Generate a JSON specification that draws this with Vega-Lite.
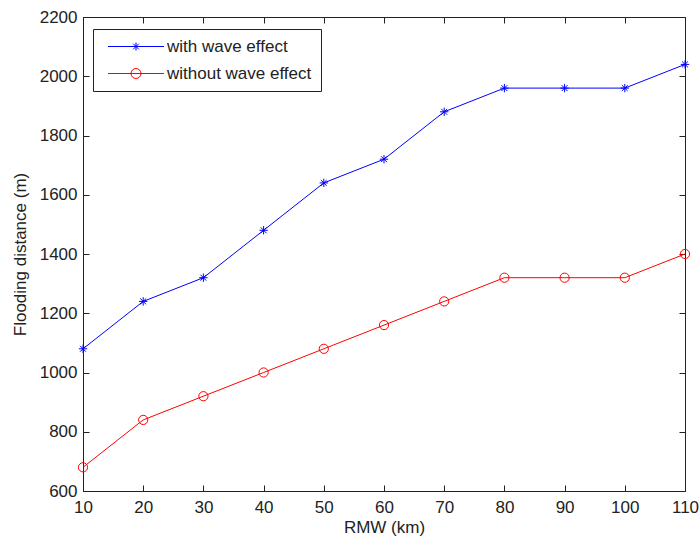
{
  "$schema": "https://vega.github.io/schema/vega-lite/v6.json",
  "width": 602,
  "height": 474,
  "autosize": {"type": "none"},
  "padding": {"left": 83, "top": 17, "right": 15, "bottom": 52},
  "background": "white",
  "config": {
    "view": {"stroke": "#222222", "strokeWidth": 1},
    "font": "Liberation Sans",
    "axis": {
      "domainColor": "#222222",
      "labelFont": "Liberation Sans",
      "labelFontSize": 17,
      "labelColor": "#222222",
      "labelFlush": false,
      "titleFont": "Liberation Sans",
      "titleFontSize": 17,
      "titleFontWeight": "normal",
      "titleColor": "#222222"
    }
  },
  "data": {
    "values": [
      {"rmw": 10, "dist": 1080, "series": "with wave effect"},
      {"rmw": 20, "dist": 1240, "series": "with wave effect"},
      {"rmw": 30, "dist": 1320, "series": "with wave effect"},
      {"rmw": 40, "dist": 1480, "series": "with wave effect"},
      {"rmw": 50, "dist": 1640, "series": "with wave effect"},
      {"rmw": 60, "dist": 1720, "series": "with wave effect"},
      {"rmw": 70, "dist": 1880, "series": "with wave effect"},
      {"rmw": 80, "dist": 1960, "series": "with wave effect"},
      {"rmw": 90, "dist": 1960, "series": "with wave effect"},
      {"rmw": 100, "dist": 1960, "series": "with wave effect"},
      {"rmw": 110, "dist": 2040, "series": "with wave effect"},
      {"rmw": 10, "dist": 680, "series": "without wave effect"},
      {"rmw": 20, "dist": 840, "series": "without wave effect"},
      {"rmw": 30, "dist": 920, "series": "without wave effect"},
      {"rmw": 40, "dist": 1000, "series": "without wave effect"},
      {"rmw": 50, "dist": 1080, "series": "without wave effect"},
      {"rmw": 60, "dist": 1160, "series": "without wave effect"},
      {"rmw": 70, "dist": 1240, "series": "without wave effect"},
      {"rmw": 80, "dist": 1320, "series": "without wave effect"},
      {"rmw": 90, "dist": 1320, "series": "without wave effect"},
      {"rmw": 100, "dist": 1320, "series": "without wave effect"},
      {"rmw": 110, "dist": 1400, "series": "without wave effect"}
    ]
  },
  "resolve": {"scale": {"x": "independent", "y": "independent"}, "axis": {"x": "independent", "y": "independent"}},
  "layer": [
    {
      "mark": {"type": "line", "strokeWidth": 1, "clip": true},
      "encoding": {
        "x": {"field": "rmw", "type": "quantitative", "scale": {"domain": [10, 110], "nice": false, "zero": false},
              "axis": {"orient": "bottom", "grid": false, "tickCount": 11, "format": "d", "tickSize": -6, "tickColor": "#222222", "tickWidth": 1, "labelPadding": 14, "title": "RMW (km)", "titlePadding": 4}},
        "y": {"field": "dist", "type": "quantitative", "scale": {"domain": [600, 2200], "nice": false, "zero": false},
              "axis": {"orient": "left", "grid": false, "tickCount": 9, "format": "d", "tickSize": -6, "tickColor": "#222222", "tickWidth": 1, "labelPadding": 12, "title": "Flooding distance (m)", "titlePadding": 10}},
        "color": {"field": "series", "type": "nominal",
          "scale": {"domain": ["with wave effect", "without wave effect"], "range": ["#0000ff", "#ff0000"]},
          "legend": {
            "title": null,
            "orient": "none",
            "legendX": 10,
            "legendY": 12,
            "strokeColor": "#222222",
            "fillColor": "white",
            "padding": 9,
            "labelFont": "Liberation Sans",
            "labelFontSize": 17,
            "labelColor": "#222222",
            "labelOffset": 48,
            "rowPadding": 9,
            "symbolSize": 100,
            "cornerRadius": 0,
            "zindex": 2,
            "encode": {
              "symbols": {
                "update": {
                  "shape": {"signal": "datum.value === 'with wave effect' ? 'M-5.6,0L5.6,0M-0.8,0L0.8,0M0,-0.8L0,0.8M-0.56,-0.56L0.56,0.56M-0.56,0.56L0.56,-0.56' : 'M-5.6,0L5.6,0M-1,0A1,1 0 1,0 1,0A1,1 0 1,0 -1,0'"},
                  "x": {"value": 34},
                  "fill": {"value": "transparent"},
                  "strokeWidth": {"value": 1}
                }
              }
            }
          }
        }
      }
    },
    {
      "transform": [{"filter": "datum.series === 'with wave effect'"}],
      "mark": {"type": "point", "shape": "M-1,0L1,0M0,-1L0,1M-0.7,-0.7L0.7,0.7M-0.7,0.7L0.7,-0.7", "size": 70, "stroke": "#0000ff", "strokeWidth": 1, "filled": false, "opacity": 1},
      "encoding": {
        "x": {"field": "rmw", "type": "quantitative", "scale": {"domain": [10, 110], "nice": false, "zero": false}, "axis": null},
        "y": {"field": "dist", "type": "quantitative", "scale": {"domain": [600, 2200], "nice": false, "zero": false}, "axis": null}
      }
    },
    {
      "transform": [{"filter": "datum.series === 'without wave effect'"}],
      "mark": {"type": "point", "shape": "circle", "size": 85, "stroke": "#ff0000", "strokeWidth": 1, "filled": false, "opacity": 1},
      "encoding": {
        "x": {"field": "rmw", "type": "quantitative", "scale": {"domain": [10, 110], "nice": false, "zero": false}, "axis": null},
        "y": {"field": "dist", "type": "quantitative", "scale": {"domain": [600, 2200], "nice": false, "zero": false}, "axis": null}
      }
    },
    {
      "mark": {"type": "point", "opacity": 0},
      "encoding": {
        "x": {"field": "rmw", "type": "quantitative", "scale": {"domain": [10, 110], "nice": false, "zero": false},
              "axis": {"orient": "top", "grid": false, "tickCount": 11, "tickSize": -6, "tickColor": "#222222", "tickWidth": 1, "labels": false, "title": null}},
        "y": {"field": "dist", "type": "quantitative", "scale": {"domain": [600, 2200], "nice": false, "zero": false},
              "axis": {"orient": "right", "grid": false, "tickCount": 9, "tickSize": -6, "tickColor": "#222222", "tickWidth": 1, "labels": false, "title": null}}
      }
    }
  ]
}
